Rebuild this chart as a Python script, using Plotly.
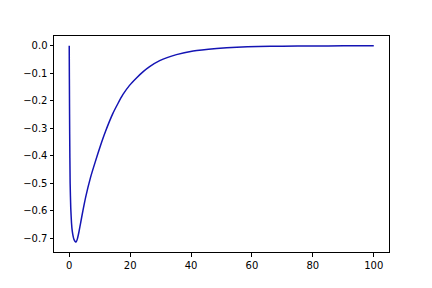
import plotly.graph_objects as go

x_vals = [0, 0.05, 0.15, 0.3, 0.5, 0.75, 1.0, 1.5, 2.0, 2.3, 2.7, 3.2, 3.7, 4.5, 5.4,
          7.0, 8.65, 10.3, 11.9, 14.3, 16.0, 17.6, 19.8, 22, 24.2, 26.4, 29.7, 35.2,
          40.7, 48.4, 55, 62, 70, 80, 90, 100]
y_vals = [0, -0.12, -0.32, -0.50, -0.59, -0.645, -0.675, -0.703, -0.713, -0.714, -0.702,
          -0.677, -0.647, -0.600, -0.551, -0.479, -0.419, -0.362, -0.312, -0.247, -0.210,
          -0.178, -0.144, -0.118, -0.095, -0.076, -0.054, -0.032, -0.019, -0.010,
          -0.005, -0.0025, -0.0012, -0.0005, -0.0002, 0]

x_ticks = [0, 20, 40, 60, 80, 100]
y_ticks = [0.0, -0.1, -0.2, -0.3, -0.4, -0.5, -0.6, -0.7]

fig = go.Figure()
fig.add_trace(go.Scatter(x=x_vals, y=y_vals, mode="lines",
                         line=dict(color="#1414B4", width=1.5, shape="spline", smoothing=0.5),
                         hoverinfo="skip"))

axis_common = dict(showline=True, linecolor="black", linewidth=1, mirror=True,
                   ticks="outside", ticklen=3.5, tickwidth=0.8, tickcolor="black",
                   showgrid=False, zeroline=False,
                   tickfont=dict(family="DejaVu Sans", size=10, color="black"))

fig.update_layout(
    width=432, height=288,
    margin=dict(l=54, r=43, t=36, b=36),
    paper_bgcolor="white", plot_bgcolor="white",
    showlegend=False,
    xaxis=dict(range=[-5, 105], tickvals=x_ticks, ticktext=[str(t) for t in x_ticks], **axis_common),
    yaxis=dict(range=[-0.7507, 0.0357], tickvals=y_ticks, tickformat=".1f", **axis_common),
)

fig.write_html("out.html")
